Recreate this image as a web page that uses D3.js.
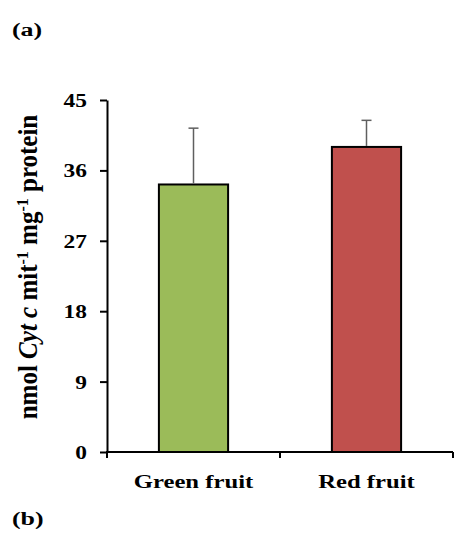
<!DOCTYPE html>
<html><head><meta charset="utf-8">
<script src="https://cdn.jsdelivr.net/npm/d3@7"></script>
<style>body{margin:0;background:#fff}svg{display:block}text{font-family:"Liberation Serif","Times New Roman",serif;font-weight:bold;fill:#000}</style>
</head><body>
<script>
const categories = ["Green fruit", "Red fruit"];
const values = [34.2, 39.0];
const errors = [7.2, 3.4];
const colors = ["#9BBB59", "#C0504D"];
const yTicks = [0, 9, 18, 27, 36, 45];

const W = 456, H = 534;
const SX = 1.3; // horizontal stretch of the original picture's text
const svg = d3.select("body").append("svg").attr("width", W).attr("height", H);
const m = {left:107, right:3, top:100, bottom:82};
const x = d3.scaleBand().domain(categories).range([m.left, W - m.right]).paddingInner(0.6).paddingOuter(0.3);
const y = d3.scaleLinear().domain([0, 45]).range([H - m.bottom, m.top]);

// bars
svg.selectAll("rect.bar").data(categories).join("rect")
  .attr("x", d => x(d)).attr("width", x.bandwidth())
  .attr("y", (d,i) => y(values[i])).attr("height", (d,i) => y(0) - y(values[i]))
  .attr("fill", (d,i) => colors[i]).attr("stroke", "#000").attr("stroke-width", 2);

// error bars
categories.forEach((c,i) => {
  const cx = x(c) + x.bandwidth()/2;
  const g = svg.append("g").attr("stroke", "#5f5f5f").attr("stroke-width", 1.5);
  g.append("line").attr("x1", cx).attr("x2", cx).attr("y1", y(values[i]) - 1).attr("y2", y(values[i] + errors[i]));
  g.append("line").attr("x1", cx - 5).attr("x2", cx + 5).attr("y1", y(values[i] + errors[i])).attr("y2", y(values[i] + errors[i]));
});

// y axis
const ya = svg.append("g").attr("transform", `translate(${m.left},0)`)
  .call(d3.axisLeft(y).tickValues(yTicks).tickSize(7).tickSizeOuter(0));
ya.select(".domain").attr("stroke", "#000").attr("stroke-width", 2);
ya.selectAll(".tick line").attr("stroke-width", 2);
ya.selectAll(".tick text").remove();
svg.selectAll("text.yt").data(yTicks).join("text").attr("class","yt")
  .attr("transform", d => `translate(87,${y(d) + 7}) scale(1.2,1)`)
  .attr("text-anchor", "end").attr("font-size", 19.5).text(d => d);

// x axis with boundary ticks
const xa = svg.append("g").attr("transform", `translate(0,${y(0)})`);
xa.append("line").attr("x1", m.left - 1).attr("x2", W - m.right).attr("stroke", "#000").attr("stroke-width", 2);
const bounds = [x.range()[0], (x(categories[0]) + x.bandwidth() + x(categories[1])) / 2, x.range()[1]];
xa.selectAll("line.bt").data(bounds).join("line").attr("class","bt")
  .attr("x1", d => d).attr("x2", d => d).attr("y1", 0).attr("y2", 6).attr("stroke", "#000").attr("stroke-width", 2);
xa.selectAll("text.cat").data(categories).join("text").attr("class","cat")
  .attr("transform", d => `translate(${x(d) + x.bandwidth()/2},36) scale(${SX},1)`)
  .attr("text-anchor", "middle").attr("font-size", 19).text(d => d);

// y title
const t = svg.append("text").attr("transform", `translate(37,267) scale(1.05,1) rotate(-90)`)
  .attr("text-anchor", "middle").attr("font-size", 25);
t.append("tspan").text("nmol ");
t.append("tspan").attr("font-style", "italic").text("Cyt c");
t.append("tspan").text(" mit");
t.append("tspan").attr("baseline-shift", "super").attr("font-size", 16).text("-1");
t.append("tspan").text(" mg");
t.append("tspan").attr("baseline-shift", "super").attr("font-size", 16).text("-1");
t.append("tspan").text(" protein");

svg.append("text").attr("transform", "translate(12,36) scale(1.4,1)").attr("font-size", 18.5).text("(a)");
svg.append("text").attr("transform", "translate(12,525) scale(1.4,1)").attr("font-size", 18.5).text("(b)");
</script>
</body></html>
